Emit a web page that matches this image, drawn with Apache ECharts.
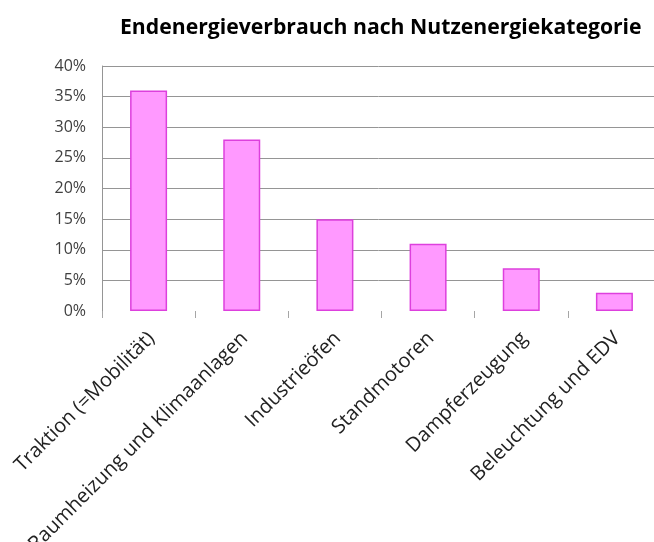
<!DOCTYPE html>
<html>
<head>
<meta charset="utf-8">
<script src="https://cdn.jsdelivr.net/npm/echarts@6/dist/echarts.min.js"></script>
<style>html,body{margin:0;padding:0;background:#fff;overflow:hidden}#c{width:654px;height:542px}</style>
</head>
<body>
<div id="c"></div>
<script>
const chartTitle = 'Endenergieverbrauch nach Nutzenergiekategorie';
const categories = ['Traktion (=Mobilität)', 'Raumheizung und Klimaanlagen', 'Industrieöfen', 'Standmotoren', 'Dampferzeugung', 'Beleuchtung und EDV'];
const shares = [36, 28, 15, 11, 7, 3];
const yTicks = [0, 5, 10, 15, 20, 25, 30, 35, 40];

const chart = echarts.init(document.getElementById('c'), null, {renderer: 'canvas'});
const gridColors = yTicks.map((v, i) => i === 0 ? 'rgba(0,0,0,0)' : '#959595');
chart.setOption({
  animation: false,
  backgroundColor: '#ffffff',
  title: {
    text: chartTitle,
    left: 120,
    top: 17,
    padding: 0,
    textStyle: {fontFamily: 'Open Sans', fontWeight: 'bold', fontSize: 21.2, color: '#000'}
  },
  grid: {left: 102, top: 66, right: -7, bottom: 231, containLabel: false, outerBoundsMode: 'none'},
  xAxis: {
    type: 'category',
    data: categories,
    axisLine: {show: false},
    axisTick: {show: true, alignWithLabel: false, length: 7, lineStyle: {color: '#a6a6a6'}},
    axisLabel: {rotate: 45, interval: 0, margin: 27, padding: [0, -4, 0, 0], fontFamily: 'Open Sans', fontSize: 20, color: '#222'}
  },
  yAxis: {
    type: 'value',
    min: 0, max: 40, interval: 5,
    axisLine: {show: true, lineStyle: {color: '#959595'}},
    axisTick: {show: false},
    axisLabel: {formatter: '{value}%', margin: 16, fontFamily: 'Open Sans', fontSize: 16, color: '#404040'},
    splitLine: {show: true, lineStyle: {color: gridColors, width: 1}}
  },
  series: [{
    type: 'bar',
    data: shares,
    barWidth: 37,
    itemStyle: {color: '#ff99ff', borderColor: '#dd40dd', borderWidth: 1.5}
  }]
});
</script>
</body>
</html>
